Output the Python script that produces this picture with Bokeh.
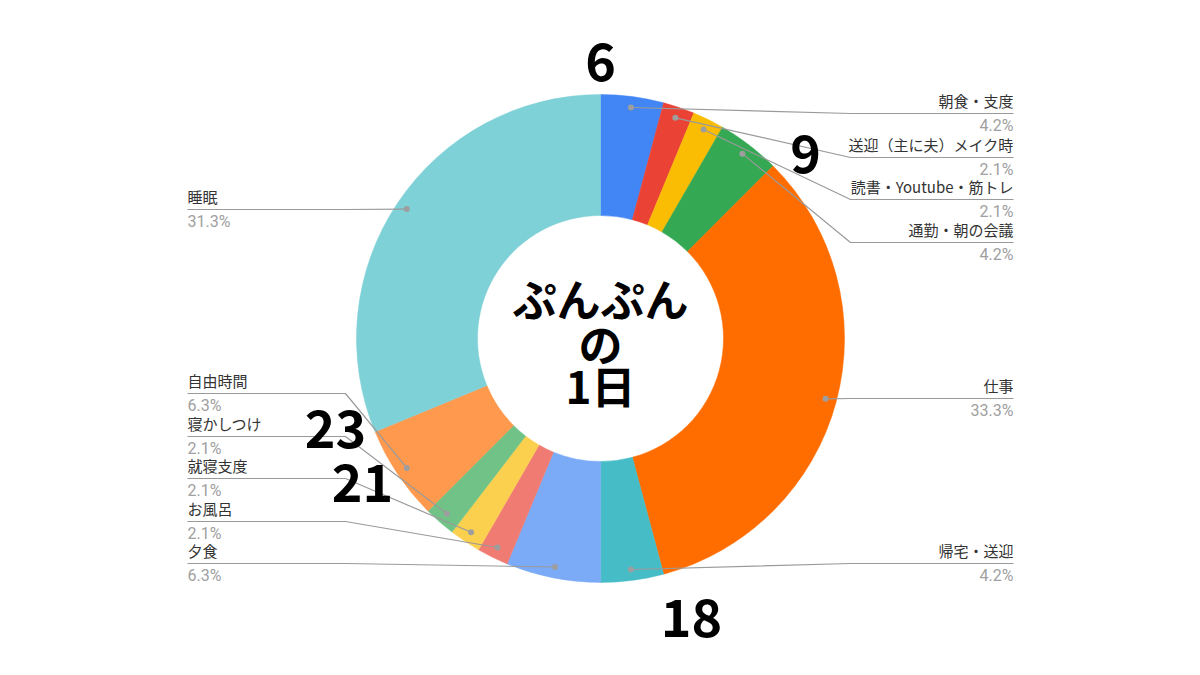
import math
from bokeh.plotting import figure
from bokeh.models import Range1d, ColumnDataSource
from bokeh.core.properties import value
from bokeh.embed import file_html
from bokeh.resources import INLINE

# ---- data ----
categories = ["朝食・支度", "送迎（主に夫）メイク時", "読書・Youtube・筋トレ", "通勤・朝の会議",
              "仕事", "帰宅・送迎", "夕食", "お風呂", "就寝支度", "寝かしつけ", "自由時間", "睡眠"]
half_hours = [2, 1, 1, 2, 16, 2, 3, 1, 1, 1, 3, 15]
colors = ["#4285F4", "#EA4335", "#FBBC04", "#34A853", "#FF6D01", "#46BDC6",
          "#7BAAF7", "#F07B72", "#FCD04F", "#71C287", "#FF994D", "#7ED1D7"]
hour_marks = ["6", "9", "18", "21", "23"]
center_lines = ["ぷんぷん", "の", "1日"]

# ---- layout (pixel positions in the 1200x675 page) ----
CX, CY = 600, 338
R_OUT, R_IN, R_DOT = 244, 123, 233
label_side = ["R", "R", "R", "R", "R", "R", "L", "L", "L", "L", "L", "L"]
label_line_y = [113, 157, 199, 242, 398, 563, 563, 521, 478, 436, 393, 209]
hour_pos = [(600, 61), (805, 153), (691, 617), (362, 482), (335, 428)]
RIGHT_X, LEFT_X = 1013, 187
RIGHT_ELBOW, LEFT_ELBOW = 850, 345
OFF = 0  # page offset of the figure's top-left corner

def dx(px):
    return px - CX

def dy(py):
    return CY - py

W, H = 1184, 659
p = figure(width=W, height=H, output_backend="svg", toolbar_location=None,
           x_range=Range1d(OFF - CX, OFF + W - CX), y_range=Range1d(CY - OFF - H, CY - OFF),
           min_border=0)
p.axis.visible = False
p.grid.visible = False
p.outline_line_color = None
p.background_fill_color = "white"
p.border_fill_color = "white"

total = sum(half_hours)
starts, ends, mids = [], [], []
cum = 0
for v in half_hours:
    a0 = math.pi / 2 - 2 * math.pi * cum / total
    cum += v
    a1 = math.pi / 2 - 2 * math.pi * cum / total
    starts.append(a0)
    ends.append(a1)
    mids.append((a0 + a1) / 2)

src = ColumnDataSource(dict(start=starts, end=ends, color=colors))
p.annular_wedge(x=0, y=0, inner_radius=R_IN, outer_radius=R_OUT,
                start_angle="start", end_angle="end", direction="clock",
                fill_color="color", line_color="color", line_width=0.5, source=src)

def pct_text(v):
    x = 100.0 * v / total
    return f"{math.floor(x * 10 + 0.5) / 10:.1f}%"

# leader lines, dots, labels
dot_x = [R_DOT * math.cos(m) for m in mids]
dot_y = [R_DOT * math.sin(m) for m in mids]
for i, name in enumerate(categories):
    ly = dy(label_line_y[i])
    if label_side[i] == "R":
        elbow = dx(RIGHT_ELBOW) if dot_x[i] < dx(RIGHT_ELBOW) else dot_x[i]
        xs = [dot_x[i], elbow, dx(RIGHT_X)]
        tx, align = dx(RIGHT_X), "right"
    else:
        elbow = dx(LEFT_ELBOW) if dot_x[i] > dx(LEFT_ELBOW) else dot_x[i]
        xs = [dot_x[i], elbow, dx(LEFT_X)]
        tx, align = dx(LEFT_X), "left"
    p.line(xs, [dot_y[i], ly, ly], line_color="#9a9a9a", line_width=1.2)
    p.text([tx], [ly + 3], text=[name], text_align=align, text_baseline="bottom",
           text_font=value("Noto Sans CJK JP"), text_font_size="15px", text_color="#333333")
    p.text([tx], [ly - 2], text=[pct_text(half_hours[i])], text_align=align, text_baseline="top",
           text_font=value("Roboto"), text_font_size="16px", text_color="#a0a0a0")

p.scatter(dot_x, dot_y, size=6, fill_color="#9e9e9e", line_color=None)

# centre title
center_y = [297, 342, 384]
for t, yy in zip(center_lines, center_y):
    p.text([0], [dy(yy)], text=[t], text_align="center", text_baseline="middle",
           text_font=value("Noto Sans CJK JP"), text_font_size="44px",
           text_font_style="bold", text_color="#000000")

# hour marks
p.text([dx(x) for x, y in hour_pos], [dy(y) for x, y in hour_pos], text=hour_marks,
       text_align="center", text_baseline="middle",
       text_font=value("Noto Sans CJK JP"), text_font_size="52px",
       text_font_style="bold", text_color="#000000")

open("out.html", "w").write(file_html(p, INLINE))
